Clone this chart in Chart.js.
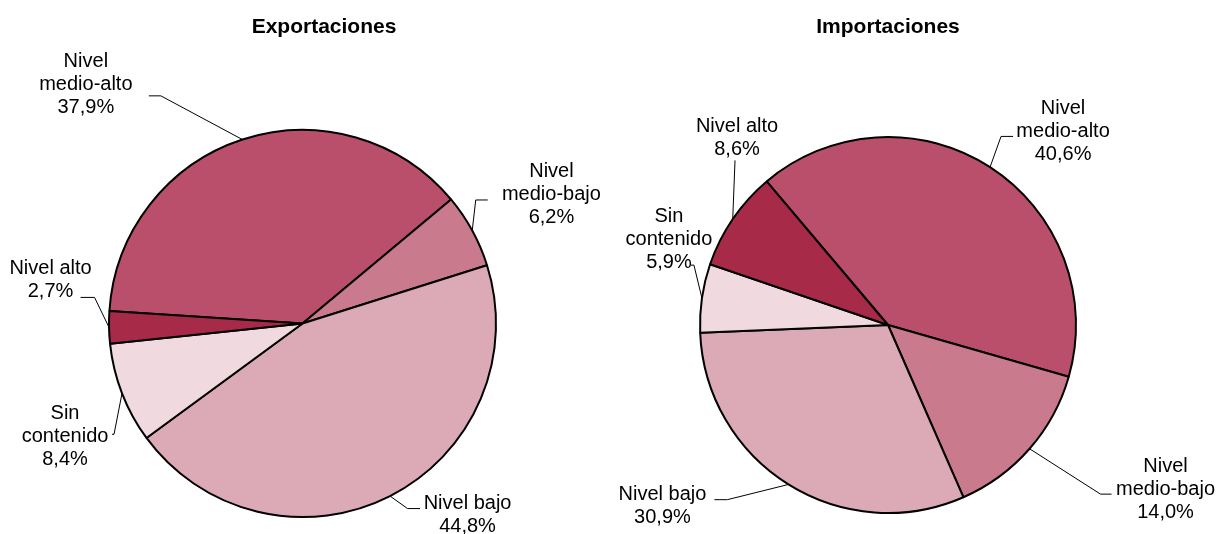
<!DOCTYPE html>
<html lang="es">
<head>
    <meta charset="UTF-8">
    <title>Exportaciones e importaciones por nivel</title>
    <style>
        body {
            margin: 0;
            padding: 0;
            background-color: #ffffff;
            width: 1218px;
            height: 534px;
            position: relative;
            overflow: hidden;
        }
        .pie-box {
            position: absolute;
            top: 0;
            width: 609px;
            height: 534px;
        }
    </style>
    <script src="https://cdn.jsdelivr.net/npm/chart.js"></script>
</head>
<body>

<div class="pie-box" style="left:0"><canvas id="expChart" width="609" height="534"></canvas></div>
<div class="pie-box" style="left:609px"><canvas id="impChart" width="609" height="534"></canvas></div>

<script>
    // Categories (clockwise order of the slices)
    const categories = ['Nivel\nmedio-alto', 'Nivel\nmedio-bajo', 'Nivel bajo', 'Sin\ncontenido', 'Nivel alto'];
    const exportValues = [37.9, 6.2, 44.8, 8.4, 2.7];
    const importValues = [40.6, 14.0, 30.9, 5.9, 8.6];
    const sliceColors = ['#b94f6a', '#c97b8d', '#dca9b6', '#f0d9df', '#a72a49'];

    // Label placement relative to the slice edge point: text block centre and leader elbow points
    const exportLabelLayout = [
        { tx: -156.6, ty: -54.7, pts: [[-81.6, -43.7], [-93.6, -43.7]] },
        { tx: 79.2, ty: -35.6, pts: [[3.5, -30.6], [15.5, -30.6]] },
        { tx: 77.5, ty: 19, pts: [[17.5, 12.5], [30, 12.5]] },
        { tx: -57, ty: 43, pts: [[-8, 41], [-10, 41]] },
        { tx: -58.5, ty: -47, pts: [[-14.5, -30], [-28.5, -30]] }
    ];
    const importLabelLayout = [
        { tx: 73, ty: -35.7, pts: [[11, -30.7], [23, -30.7]] },
        { tx: 136, ty: 40.4, pts: [[71, 45.4], [82, 45.4]] },
        { tx: -126, ty: 21.7, pts: [[-61, 15.2], [-74, 15.2]] },
        { tx: -33, ty: -59, pts: [[-8, -33], [-11, -33]] },
        { tx: 4.3, ty: -80.6, pts: [[2.3, -58.6]] }
    ];

    const fontFamily = '"Liberation Sans", Arial, sans-serif';
    const lineHeight = 23;

    function formatPct(v) {
        return v.toFixed(1).replace('.', ',') + '%';
    }

    // Draws the chart title and the outside labels with leader lines
    const pieLabels = {
        id: 'pieLabels',
        afterDatasetsDraw(chart, args, opts) {
            const ctx = chart.ctx;
            const meta = chart.getDatasetMeta(0);
            const values = chart.data.datasets[0].data;
            ctx.save();
            ctx.fillStyle = '#000';
            ctx.textAlign = 'center';
            ctx.textBaseline = 'middle';

            ctx.font = 'bold 21px ' + fontFamily;
            ctx.fillText(opts.title, opts.titleX, opts.titleY);

            ctx.font = '20px ' + fontFamily;
            ctx.strokeStyle = '#000';
            ctx.lineWidth = 1;
            meta.data.forEach((arc, i) => {
                const p = arc.getProps(['x', 'y', 'startAngle', 'endAngle', 'outerRadius'], true);
                const mid = (p.startAngle + p.endAngle) / 2;
                const ex = p.x + Math.cos(mid) * p.outerRadius;
                const ey = p.y + Math.sin(mid) * p.outerRadius;
                const lay = opts.layout[i];

                ctx.beginPath();
                ctx.moveTo(ex, ey);
                lay.pts.forEach(pt => ctx.lineTo(ex + pt[0], ey + pt[1]));
                ctx.stroke();

                const lines = chart.data.labels[i].split('\n').concat([formatPct(values[i])]);
                const top = ey + lay.ty - (lines.length - 1) * lineHeight / 2;
                lines.forEach((ln, k) => {
                    ctx.fillText(ln, ex + lay.tx, top + k * lineHeight);
                });
            });
            ctx.restore();
        }
    };

    function makePie(id, values, rotation, padding, titleOpts, layout) {
        return new Chart(document.getElementById(id), {
            type: 'pie',
            data: {
                labels: categories,
                datasets: [{
                    data: values,
                    backgroundColor: sliceColors,
                    borderColor: '#000',
                    borderWidth: 2
                }]
            },
            options: {
                responsive: false,
                animation: false,
                rotation: rotation,
                layout: { padding: padding },
                plugins: {
                    legend: { display: false },
                    tooltip: { enabled: false },
                    pieLabels: Object.assign({ layout: layout }, titleOpts)
                }
            },
            plugins: [pieLabels]
        });
    }

    makePie('expChart', exportValues, -86.3,
        { left: 108, right: 112, top: 129, bottom: 16 },
        { title: 'Exportaciones', titleX: 324, titleY: 27 },
        exportLabelLayout);

    makePie('impChart', importValues, -40.2,
        { left: 90, right: 141, top: 136, bottom: 20 },
        { title: 'Importaciones', titleX: 279, titleY: 27 },
        importLabelLayout);
</script>

</body>
</html>
